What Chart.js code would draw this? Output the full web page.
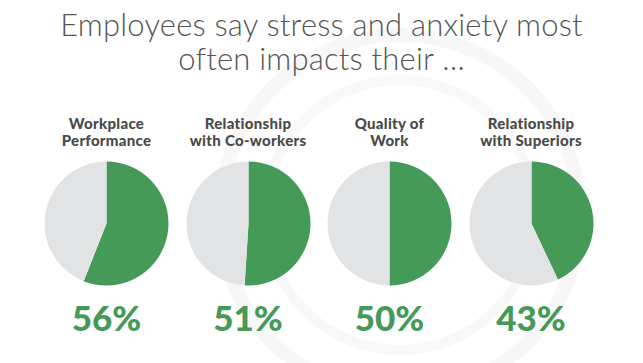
<!DOCTYPE html>
<html>
<head>
<meta charset="utf-8">
<script src="https://cdn.jsdelivr.net/npm/chart.js@4.4.1/dist/chart.umd.min.js"></script>
<style>
  html, body { margin: 0; padding: 0; background: #fff; }
  body { width: 643px; height: 363px; position: relative; overflow: hidden; font-family: 'Lato', sans-serif; }
  #title { position: absolute; left: 0; top: 7px; width: 643px; text-align: center;
    font-size: 31px; font-weight: 300; color: #555; line-height: 34px; letter-spacing: 0.2px; }
  .label { position: absolute; width: 170px; text-align: center; top: 115px;
    font-size: 15px; font-weight: 900; color: #4a4a4a; line-height: 17px; letter-spacing: 0.3px; }
  .pct { position: absolute; width: 160px; text-align: center; top: 297px;
    font-size: 35px; font-weight: 900; color: #459a57; line-height: 40px; }
  .pie { position: absolute; top: 153px; width: 141px; height: 141px; }
  #wm { position: absolute; left: 0; top: 0; }
</style>
</head>
<body>
<svg id="wm" width="643" height="363">
  <circle cx="400" cy="215" r="180" fill="none" stroke="#f7f7f7" stroke-width="14"/>
  <circle cx="400" cy="215" r="135" fill="none" stroke="#f8f8f8" stroke-width="10"/>
</svg>
<div id="title">Employees say stress and anxiety most<br>often impacts their …</div>
<div id="charts"></div>
<script>
// ===== DATA =====
const categories = [
  ['Workplace', 'Performance'],
  ['Relationship', 'with Co-workers'],
  ['Quality of', 'Work'],
  ['Relationship', 'with Superiors']
];
const impactPct = [56, 51, 50, 43];
const centersX = [106.5, 248, 389.5, 531];

const GREEN = '#459a57';
const GREY = '#e2e3e5';

const root = document.getElementById('charts');
categories.forEach((cat, i) => {
  const cx = centersX[i];
  const lbl = document.createElement('div');
  lbl.className = 'label';
  lbl.style.left = (cx - 85) + 'px';
  lbl.innerHTML = cat.join('<br>');
  root.appendChild(lbl);

  const wrap = document.createElement('div');
  wrap.className = 'pie';
  wrap.style.left = (cx - 70.5) + 'px';
  const cv = document.createElement('canvas');
  wrap.appendChild(cv);
  root.appendChild(wrap);

  const pct = document.createElement('div');
  pct.className = 'pct';
  pct.style.left = (cx - 80) + 'px';
  pct.textContent = impactPct[i] + '%';
  root.appendChild(pct);

  new Chart(cv, {
    type: 'pie',
    data: {
      labels: ['Impacted', 'Other'],
      datasets: [{
        data: [impactPct[i], 100 - impactPct[i]],
        backgroundColor: [GREEN, GREY],
        borderWidth: 0,
        hoverOffset: 0
      }]
    },
    options: {
      responsive: true,
      maintainAspectRatio: false,
      animation: false,
      layout: { padding: 8.5 },
      plugins: { legend: { display: false }, tooltip: { enabled: false } }
    }
  });
});
</script>
</body>
</html>
